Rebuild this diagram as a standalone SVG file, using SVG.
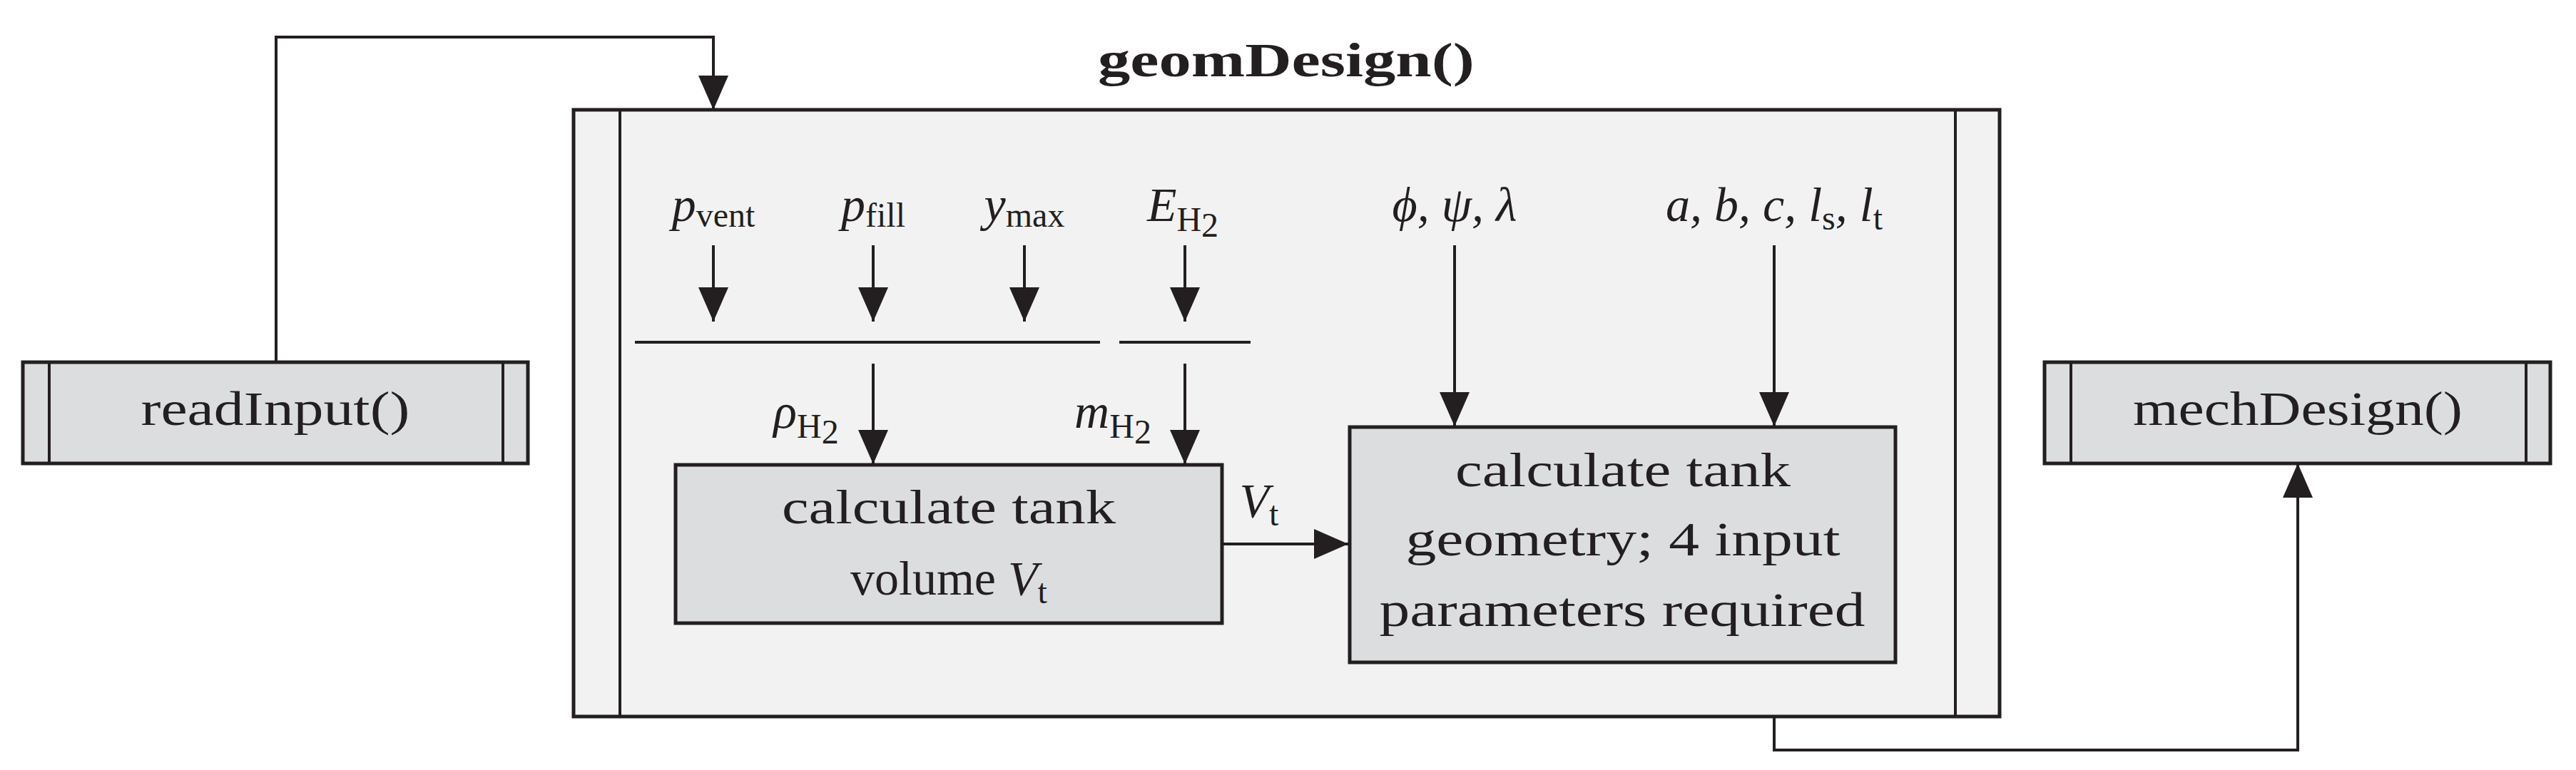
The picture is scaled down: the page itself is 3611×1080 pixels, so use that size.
<svg xmlns="http://www.w3.org/2000/svg" width="3611" height="1080" viewBox="0 0 3611 1080">
<style>
.ln{stroke:#231f20;stroke-width:4;fill:none}
.bx{stroke:#231f20;stroke-width:5;fill:#dcdddf}
.t{font-family:"Liberation Serif",serif;font-size:68px;fill:#231f20;text-anchor:middle}
.m{font-family:"Liberation Serif",serif;font-style:italic;font-size:68px;fill:#231f20;text-anchor:middle}
.s{font-style:normal;font-size:48px}
</style>
<defs>
<marker id="ah" markerUnits="userSpaceOnUse" markerWidth="50" markerHeight="44" refX="48" refY="21" orient="auto">
<path d="M0,0 L48,21 L0,42 z" fill="#231f20"/>
</marker>
</defs>
<rect width="3611" height="1080" fill="#fff"/>
<g id="geomDesign">
<rect x="804" y="154" width="1999" height="851" fill="#f2f2f2" stroke="#231f20" stroke-width="5"/>
<line class="ln" x1="869" y1="154" x2="869" y2="1005" stroke-width="5"/>
<line class="ln" x1="2741" y1="154" x2="2741" y2="1005" stroke-width="5"/>
<text class="t" x="1803" y="107" font-weight="bold" textLength="528" lengthAdjust="spacingAndGlyphs">geomDesign()</text>
</g>
<g id="readInput">
<rect class="bx" x="32" y="508" width="708" height="142"/>
<line class="ln" x1="69" y1="508" x2="69" y2="650" stroke-width="5"/>
<line class="ln" x1="705" y1="508" x2="705" y2="650" stroke-width="5"/>
<text class="t" x="386" y="596" textLength="377" lengthAdjust="spacingAndGlyphs">readInput()</text>
</g>
<g id="mechDesign">
<rect class="bx" x="2866" y="508" width="709" height="142"/>
<line class="ln" x1="2903" y1="508" x2="2903" y2="650" stroke-width="5"/>
<line class="ln" x1="3541" y1="508" x2="3541" y2="650" stroke-width="5"/>
<text class="t" x="3221" y="596" textLength="462" lengthAdjust="spacingAndGlyphs">mechDesign()</text>
</g>
<g id="volume">
<rect class="bx" x="947" y="652" width="766" height="222"/>
<text class="t" x="1330" y="734" textLength="468" lengthAdjust="spacingAndGlyphs">calculate tank</text>
<text class="t" x="1330" y="834">volume <tspan font-style="italic">V</tspan><tspan font-size="48" dy="12">t</tspan></text>
</g>
<g id="geometry">
<rect class="bx" x="1892" y="599" width="765" height="330"/>
<text class="t" x="2275" y="682" textLength="470" lengthAdjust="spacingAndGlyphs">calculate tank</text>
<text class="t" x="2275" y="779" textLength="609" lengthAdjust="spacingAndGlyphs">geometry; 4 input</text>
<text class="t" x="2274" y="878" textLength="681" lengthAdjust="spacingAndGlyphs">parameters required</text>
</g>
<g id="labels">
<text class="m" x="1000" y="310">p<tspan class="s" dy="8">vent</tspan></text>
<text class="m" x="1224" y="310">p<tspan class="s" dy="8">fill</tspan></text>
<text class="m" x="1436" y="310">y<tspan class="s" dy="8">max</tspan></text>
<text class="m" x="1658" y="310">E<tspan class="s" dy="14">H</tspan><tspan class="s" font-size="32" dy="8">2</tspan></text>
<text class="m" x="1130" y="600">ρ<tspan class="s" dy="14">H</tspan><tspan class="s" font-size="32" dy="8">2</tspan></text>
<text class="m" x="1560" y="600">m<tspan class="s" dy="14">H</tspan><tspan class="s" font-size="32" dy="8">2</tspan></text>
<text class="m" x="2039" y="310">ϕ, ψ, λ</text>
<text class="m" x="2487" y="310">a, b, c, l<tspan class="s" dy="12">s</tspan><tspan dy="-12">, l</tspan><tspan class="s" dy="12">t</tspan></text>
<text class="m" x="1765" y="725">V<tspan class="s" dy="12">t</tspan></text>
</g>
<g id="connectors">
<polyline class="ln" points="387,508 387,52 1000,52 1000,154" marker-end="url(#ah)"/>
<polyline class="ln" points="2487,1005 2487,1052 3221,1052 3221,650" marker-end="url(#ah)"/>
<line class="ln" x1="1000" y1="344" x2="1000" y2="451" marker-end="url(#ah)"/>
<line class="ln" x1="1224" y1="344" x2="1224" y2="451" marker-end="url(#ah)"/>
<line class="ln" x1="1436" y1="344" x2="1436" y2="451" marker-end="url(#ah)"/>
<line class="ln" x1="1661" y1="344" x2="1661" y2="451" marker-end="url(#ah)"/>
<line class="ln" x1="890" y1="480" x2="1542" y2="480"/>
<line class="ln" x1="1569" y1="480" x2="1753" y2="480"/>
<line class="ln" x1="1224" y1="510" x2="1224" y2="651" marker-end="url(#ah)"/>
<line class="ln" x1="1661" y1="510" x2="1661" y2="651" marker-end="url(#ah)"/>
<line class="ln" x1="2039" y1="344" x2="2039" y2="598" marker-end="url(#ah)"/>
<line class="ln" x1="2487" y1="344" x2="2487" y2="598" marker-end="url(#ah)"/>
<line class="ln" x1="1713" y1="763" x2="1890" y2="763" stroke-width="5" marker-end="url(#ah)"/>
</g>
</svg>
